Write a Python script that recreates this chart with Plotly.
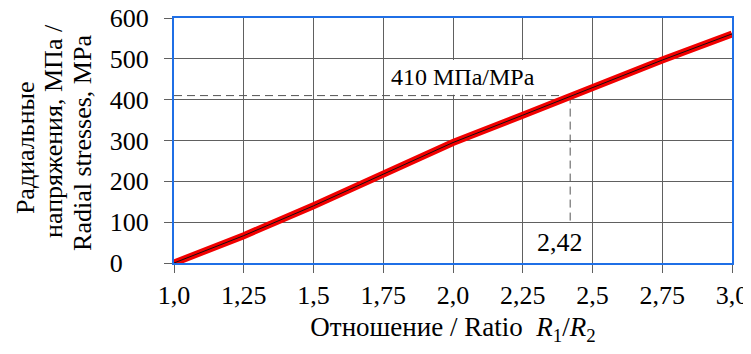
import plotly.graph_objects as go

# Data
ratio = [1.0, 1.25, 1.5, 1.75, 2.0, 2.25, 2.5, 2.75, 3.0]
stress = [0, 67, 140, 218, 295, 362, 430, 497, 561]

x_tickvals = [1.0, 1.25, 1.5, 1.75, 2.0, 2.25, 2.5, 2.75, 3.0]
x_ticktext = ["1,0", "1,25", "1,5", "1,75", "2,0", "2,25", "2,5", "2,75", "3,0"]
y_tickvals = [0, 100, 200, 300, 400, 500, 600]
nb = "\u00a0"
y_ticktext = ["0" + nb * 4, "100", "200", "300", "400", "500", "600"]

y_title_lines = ["Радиальные", "напряжения, МПа /", "Radial stresses, MPa"]
x_title = "Отношение / Ratio  <i>R</i><sub>1</sub>/<i>R</i><sub>2</sub>"

mark_x = 2.42
mark_y = 410
mark_label_x = "2,42"
mark_label_y = "410 МПа/MPa"

FONT = "Liberation Serif"
FS = 26
BLUE = "#1f6fe6"
GRID = "#606060"

fig = go.Figure()
fig.add_trace(go.Scatter(x=ratio, y=stress, mode="lines",
                         line=dict(color="#f20000", width=7), hoverinfo="skip"))
fig.add_trace(go.Scatter(x=ratio, y=stress, mode="lines",
                         line=dict(color="#111111", width=1), hoverinfo="skip"))

# white box behind label
fig.add_shape(type="rect", xref="x", yref="y", x0=1.753, x1=2.49, y0=412, y1=497,
              fillcolor="white", line=dict(width=0), layer="between")
# dashed guide lines
fig.add_shape(type="line", xref="x", yref="y", x0=1.0, x1=mark_x, y0=mark_y, y1=mark_y,
              line=dict(color="#555555", width=1, dash="8px,5px"), layer="between")
fig.add_shape(type="line", xref="x", yref="y", x0=mark_x, x1=mark_x, y0=mark_y, y1=100,
              line=dict(color="#555555", width=1, dash="8px,5px"), layer="between")

fig.add_annotation(x=1.77, y=455, xref="x", yref="y", text=mark_label_y, showarrow=False,
                   xanchor="left", yanchor="middle", font=dict(family=FONT, size=24, color="black"))
fig.add_annotation(x=2.383, y=50, xref="x", yref="y", text=mark_label_x, showarrow=False,
                   xanchor="center", yanchor="middle", font=dict(family=FONT, size=FS, color="black"))

# y axis title, three rotated lines
for txt, xs, yp in zip(y_title_lines, [-149, -120, -91], [0.469, 0.539, 0.49]):
    fig.add_annotation(x=0, y=yp, xref="paper", yref="paper", text=txt, showarrow=False,
                       textangle=-90, xanchor="center", yanchor="middle", xshift=xs,
                       font=dict(family=FONT, size=FS, color="black"))

# page body has an 8px margin: figure is sized/margined to land the plot where the reference has it
fig.update_layout(
    width=743, height=346,
    margin=dict(l=166, r=19, t=10, b=91),
    paper_bgcolor="white", plot_bgcolor="white",
    showlegend=False,
    font=dict(family=FONT, size=FS, color="black"),
    xaxis=dict(range=[1.0, 3.0], tickvals=x_tickvals, ticktext=x_ticktext,
               showgrid=True, gridcolor=GRID, gridwidth=1,
               showline=True, linecolor=BLUE, linewidth=2, mirror=True,
               ticks="outside", ticklen=8, tickcolor=GRID, tickwidth=1,
               zeroline=False, automargin=False, ticklabeloverflow="allow",
               tickfont=dict(family=FONT, size=FS, color="black"),
               title=dict(text=x_title,
                          font=dict(family=FONT, size=27, color="black"), standoff=8)),
    yaxis=dict(range=[0, 600], tickvals=y_tickvals, ticktext=y_ticktext,
               showgrid=True, gridcolor=GRID, gridwidth=1,
               showline=True, linecolor=BLUE, linewidth=2, mirror=True,
               ticks="outside", ticklen=8, tickcolor=GRID, tickwidth=1,
               zeroline=False, automargin=False, ticklabelstandoff=10,
               ticklabeloverflow="allow",
               tickfont=dict(family=FONT, size=FS, color="black")),
)

fig.write_html("out.html")
